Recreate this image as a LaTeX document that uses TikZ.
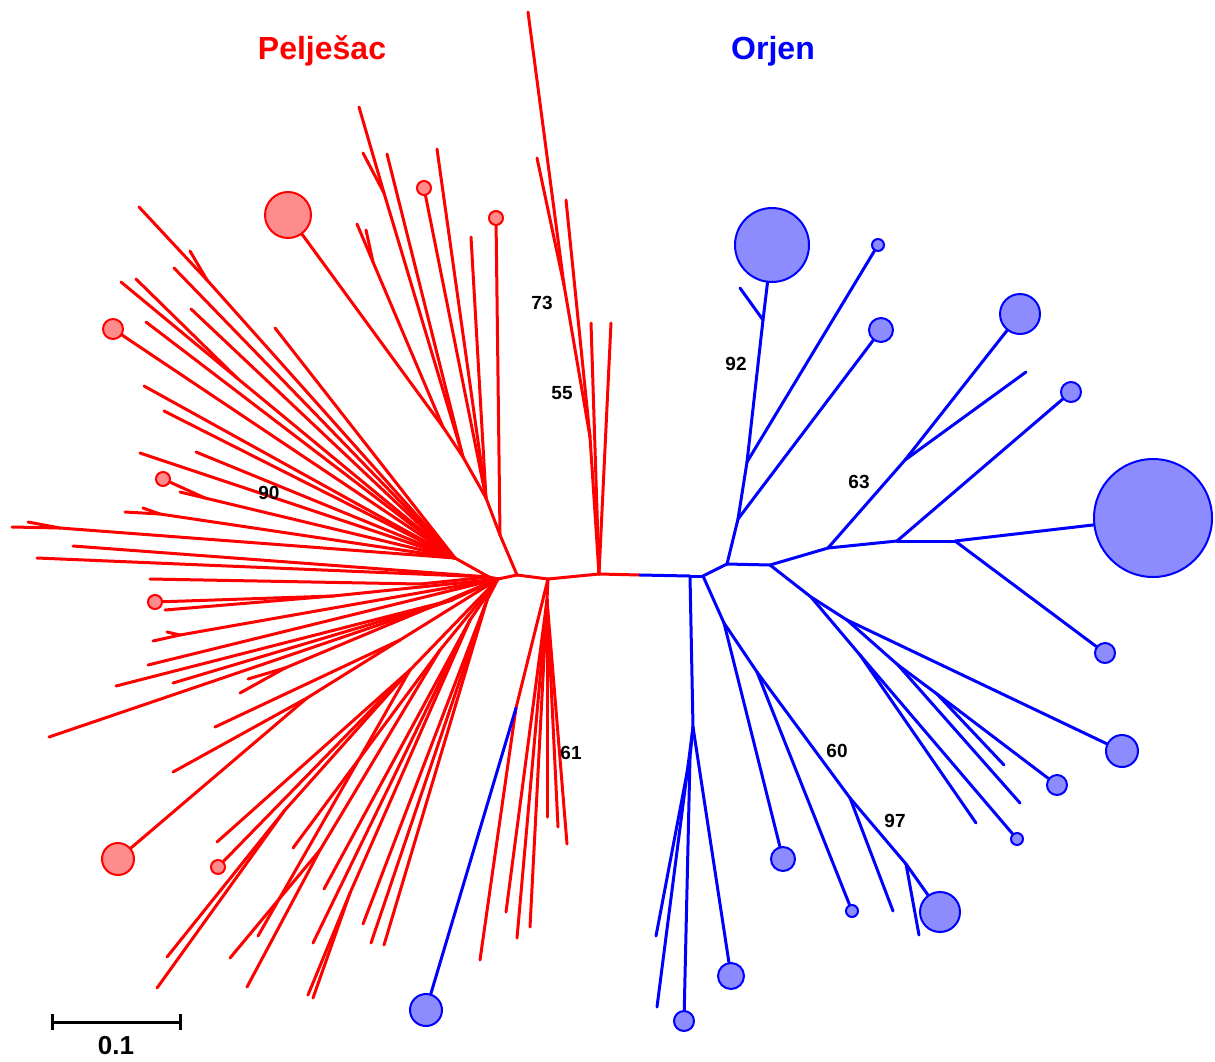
\documentclass[tikz,border=0pt]{standalone}
\usepackage{fontspec}
\setmainfont{Liberation Sans}
\begin{document}
\begin{tikzpicture}[x=0.5pt, y=-0.5pt,
  pbr/.style = {draw=red, line width=1.5pt, line cap=round},
  obr/.style = {draw=blue, line width=1.5pt, line cap=round},
  pdot/.style = {shape=circle, draw=red, fill=red!45, line width=1pt, inner sep=0pt},
  odot/.style = {shape=circle, draw=blue, fill=blue!45, line width=1pt, inner sep=0pt},
  boot/.style = {font=\fontsize{9.5}{11}\selectfont\bfseries, inner sep=0pt}]
  \tikzstyle{pop}=[font=\fontsize{16}{19}\selectfont\bfseries, inner sep=0pt, anchor=base]
  \useasboundingbox (0,0) rectangle (1215,1061);
  \foreach \n/\x/\y in {D1/455/558, D/489/577, D2/498/579, C/517/575, B/548/579,
      A/599/574, RB/640/575, C1/500/535, C2/486/498, C3/463/457, C4/384/193,
      C5/443/427, C6/373/262, A1/590/437, A2/564/285, B1/547/600, BB/516/708,
      U1/207/280, U2/237/378, U4/205/498, U5/60/528, U6/160/514,
      LA0/420/584, LA/333/596, LB/180/635, LC/452/600, LD/285/668, LE/307/698,
      LF/400/640, LG/410/670, LG2/285/810, LH/440/650, LH2/320/850,
      LI/470/620, LI2/350/893, LJ/487/600}
    \coordinate (\n) at (\x,\y);
  \foreach \n/\x/\y in {pt1/139/207, pt2/190/251, pt3/174/268, pt4/121/282,
      pt5/136/279, pt6/146/322, pt7/191/309, pt8/275/328, pt9/144/386,
      pt10/164/411, pt11/140/453, pt12/196/452, pt13/180/492, pt14/125/512,
      pt15/143/508, pt16/12/527, pt17/28/522, pt18/73/546, pt19/37/558,
      pt20/150/579, pt21/165/610, pt22/167/632, pt23/153/641, pt24/148/665,
      pt25/116/686, pt26/49/737, pt27/173/683, pt28/240/693, pt29/248/679,
      pt30/215/727, pt31/173/772, pt32/217/842, pt33/167/957, pt34/157/988,
      pt35/258/936, pt36/293/848, pt37/230/958, pt38/247/987, pt39/313/943,
      pt40/324/889, pt41/308/995, pt42/313/998, pt43/363/924, pt44/371/943,
      pt45/384/945, pt46/480/960, pt47/506/912, pt48/517/938, pt49/530/927,
      pt50/547/817, pt51/558/827, pt52/567/844, pt53/591/323, pt54/611/323,
      pt55/566/200, pt56/528/12, pt57/537/158, pt58/471/237, pt59/437/149,
      pt60/387/154, pt61/359/107, pt62/363/153, pt63/357/224, pt64/366/230}
    \coordinate (\n) at (\x,\y);
  \foreach \n/\x/\y/\s in {pc1/288/215/23, pc2/424/188/7, pc3/496/218/7,
      pc4/113/329/10, pc5/163/479/7, pc6/155/602/7, pc7/118/859/16, pc8/218/867/7}
    \node[pdot, minimum size=\s pt] (\n) at (\x,\y) {};
  \foreach \n/\x/\y in {E/690/576, F/703/576, H/727/564, J/738/519, L/747/462,
      M/763/320, K/770/565, O/828/548, P/905/460, Q/897/541, R/955/541,
      N/811/597, S1/847/620, T/898/665, T2/937/694, U/860/655, V/724/623,
      W/757/672, X/850/798, Y/906/864, Z/693/727, Z2/690/757,
      ot1/740/288, ot2/1026/372, ot3/1004/765, ot4/1020/803, ot5/976/823,
      ot6/893/911, ot7/919/935, ot8/657/1007, ot9/656/936}
    \coordinate (\n) at (\x,\y);
  \foreach \n/\x/\y/\s in {oc1/772/245/37, oc2/878/245/6, oc3/881/330/12,
      oc4/1020/314/20, oc5/1071/392/10, oc6/1153/518/59, oc7/1105/653/10,
      oc8/1122/751/16, oc9/1057/785/10, oc10/1017/839/6, oc11/940/912/20,
      oc12/852/911/6, oc13/783/859/12, oc14/731/976/13, oc15/684/1021/10,
      oc16/426/1010/16}
    \node[odot, minimum size=\s pt] (\n) at (\x,\y) {};
  \foreach \a/\b in {D1/D, D/D2, D2/C, C/B, B/A, A/RB,
      C/C1, C1/pc3, C1/C2, C2/pt58, C2/pc2, C2/pt59, C2/C3, C3/C4, C4/pt61,
      C4/pt62, C3/pt60, C3/C5, C5/pc1, C5/C6, C6/pt63, C6/pt64,
      A/pt53, A/pt54, A/A1, A1/pt55, A1/A2, A2/pt56, A2/pt57,
      B/B1, B1/pt50, B1/pt51, B1/pt52, B1/pt47, B1/pt48, B1/pt49, B/BB, BB/pt46,
      D1/U1, U1/pt1, U1/pt2, D1/pt3, D1/U2, U2/pt4, U2/pt5, D1/pc4, D1/pt6,
      D1/pt7, D1/pt8, D1/pt9, D1/pt10, D1/pt11, D1/pt12, D1/U4, U4/pc5,
      U4/pt13, D1/U6, U6/pt14, U6/pt15, D1/U5, U5/pt16, U5/pt17, D/pt18, D/pt19,
      D/LA0, LA0/pt20, D2/LA, LA/pc6, LA/pt21, D2/LB, LB/pt22, LB/pt23,
      D2/pt24, D2/LC, LC/pt25, LC/pt26, LC/pt27, D2/LD, LD/pt28, LD/pt29,
      D2/LF, LF/pt30, LF/LE, LE/pt31, LE/pc7, D2/LG, LG/pt32, LG/pc8, LG/LG2,
      LG2/pt33, LG2/pt34, LG/pt35, D2/LH, LH/pt36, LH/LH2, LH2/pt37, LH2/pt38,
      D2/LI, LI/pt39, LI/pt40, LI/LI2, LI2/pt41, LI2/pt42, D2/LJ, LJ/pt43,
      LJ/pt44, LJ/pt45}
    \draw[pbr] (\a) -- (\b);
  \foreach \a/\b in {RB/E, E/F, F/H, H/J, J/oc3, J/L, L/oc2, L/M, M/ot1, M/oc1,
      H/K, K/O, O/P, P/oc4, P/ot2, O/Q, Q/oc5, Q/R, R/oc6, R/oc7,
      K/N, N/S1, S1/oc8, S1/T, T/ot4, T/T2, T2/ot3, T2/oc9, N/U, U/ot5, U/oc10,
      F/V, V/oc13, V/W, W/oc12, W/X, X/ot6, X/Y, Y/oc11, Y/ot7,
      E/Z, Z/oc14, Z/ot8, Z/Z2, Z2/ot9, Z2/oc15, BB/oc16}
    \draw[obr] (\a) -- (\b);
  \node[boot] (b73) at (542,303) {73};
  \node[boot] (b55) at (562,393) {55};
  \node[boot] (b90) at (269,493) {90};
  \node[boot] (b61) at (571,753) {61};
  \node[boot] (b92) at (736,364) {92};
  \node[boot] (b63) at (859,482) {63};
  \node[boot] (b60) at (837,751) {60};
  \node[boot] (b97) at (895,821) {97};
  \node[pop, text=red] (pel) at (322,59) {Pelješac};
  \node[pop, text=blue] (orj) at (773,59) {Orjen};
  \coordinate (sbl) at (52,1022);
  \coordinate (sbr) at (180,1022);
  \draw[line width=1.5pt] (52,1014) -- (52,1030) (sbl) -- (sbr) (180,1014) -- (180,1030);
  \node[font=\fontsize{13}{15}\selectfont\bfseries, inner sep=0pt] (sbt) at (116,1046) {0.1};
\end{tikzpicture}
\end{document}
